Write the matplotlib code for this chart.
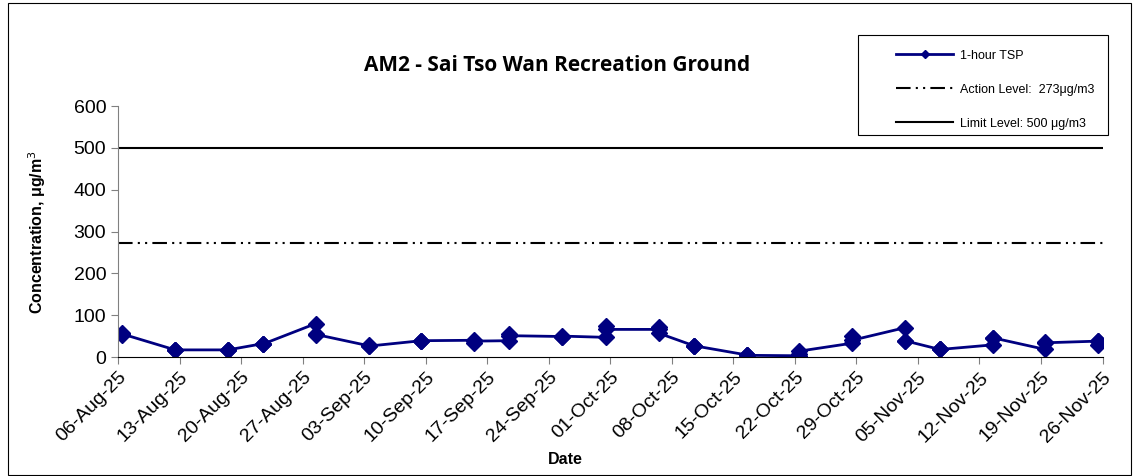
import matplotlib
matplotlib.use("Agg")
import matplotlib.pyplot as plt
import matplotlib.dates as mdates
import numpy as np
import pandas as pd
from matplotlib.patches import Rectangle

# sampling days and the three 1-hour TSP readings of each day (ug/m3)
sample_days = ["2025-08-06", "2025-08-12", "2025-08-18", "2025-08-22", "2025-08-28",
               "2025-09-03", "2025-09-09", "2025-09-15", "2025-09-19", "2025-09-25",
               "2025-09-30", "2025-10-06", "2025-10-10", "2025-10-16", "2025-10-22",
               "2025-10-28", "2025-11-03", "2025-11-07", "2025-11-13", "2025-11-19",
               "2025-11-25"]
tsp_1 = [58, 17, 17, 32, 80, 27, 39, 40, 39, 49, 47, 66, 27, 5, 3, 33, 70, 18, 29, 18, 38]
tsp_2 = [53, 17, 16, 30, 53, 28, 38, 34, 54, 49, 75, 71, 27, 4, 8, 51, 38, 18, 45, 35, 29]
tsp_3 = [55, 17, 17, 31, 54, 26, 39, 38, 51, 50, 66, 57, 27, 4, 14, 40, 39, 18, 46, 34, 38]

action_level = 273
limit_level = 500
axis_start = "2025-08-06"
axis_end = "2025-11-26"

days = pd.to_datetime(sample_days)
# three readings per day, joined in order
x = np.repeat(days.values, 3) + np.timedelta64(12, "h")
y = np.column_stack([tsp_1, tsp_2, tsp_3]).ravel()

plt.rcParams['font.family'] = ['Liberation Sans', 'DejaVu Sans']

W, H = 1139, 476
fig = plt.figure(figsize=(W / 100, H / 100), dpi=100)
fig.patches.append(Rectangle((0.007, 0.003), 0.986, 0.99, transform=fig.transFigure,
                             fill=False, edgecolor='black', linewidth=0.8))
ax = fig.add_axes([0.1036, 0.25, 0.8644, 0.527])

ax.plot(x, y, color='#000080', linewidth=2, marker='D', markersize=8,
        markerfacecolor='#000080', markeredgecolor='#000080', label='1-hour TSP')
x0 = pd.Timestamp(axis_start)
x1 = pd.Timestamp(axis_end)
ax.plot([x0, x1], [action_level, action_level], color='black', linewidth=1.5,
        linestyle=(0, (7, 2.5, 1, 2.5, 1, 2.5)), label='Action Level:  273μg/m3')
ax.plot([x0, x1], [limit_level, limit_level], color='black', linewidth=1.5,
        label='Limit Level: 500 μg/m3')

ax.set_xlim(x0, x1)
ax.set_ylim(0, 600)
ax.set_yticks(np.arange(0, 601, 100))
ax.set_xticks(pd.date_range(x0, x1, freq='7D'))
ax.xaxis.set_major_formatter(mdates.DateFormatter('%d-%b-%y'))
plt.setp(ax.get_xticklabels(), rotation=45, ha='right', rotation_mode='anchor')
ax.tick_params(axis='both', labelsize=14, direction='out', length=5, color='#808080')

for s in ['top', 'right']:
    ax.spines[s].set_visible(False)
ax.spines['left'].set_color('#808080')
ax.spines['bottom'].set_color('black')

ax.set_ylabel('Concentration, μg/m$^3$', fontsize=11.5, fontweight='bold', labelpad=18)
ax.set_xlabel('Date', fontsize=11.5, fontweight='bold')
ax.xaxis.set_label_coords(0.454, -0.38)

fig.text(0.489, 0.862, 'AM2 - Sai Tso Wan Recreation Ground', ha='center', va='center',
         fontsize=15, fontweight='bold', family=['Open Sans', 'DejaVu Sans'])

# legend box drawn separately so the entries sit indented like the original
fig.patches.append(Rectangle((858 / W, 1 - 135 / H), 250 / W, 100 / H,
                             transform=fig.transFigure, fill=False,
                             edgecolor='black', linewidth=0.8))
leg = ax.legend(loc='upper left', bbox_to_anchor=(884 / W, 1 - 38 / H),
                bbox_transform=fig.transFigure, fontsize=9, frameon=False,
                labelspacing=1.75, handlelength=4.6, handletextpad=0.5,
                borderpad=0.45, markerscale=0.5)

fig.savefig('out.png', dpi=100)
